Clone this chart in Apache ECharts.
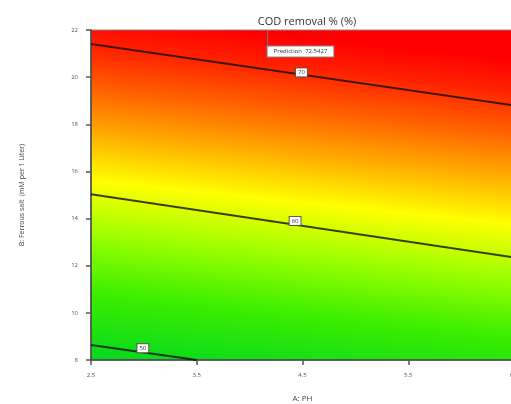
<!DOCTYPE html>
<html>
<head>
<meta charset="utf-8">
<script src="https://cdn.jsdelivr.net/npm/echarts@6/dist/echarts.min.js"></script>
<style>html,body{margin:0;padding:0;background:#fff;}#c{width:511px;height:404px;}</style>
</head>
<body>
<div id="c"></div>
<script>
// Axis ticks
const xTicks = [2.5, 3.5, 4.5, 5.5, 6.5];
const yTicks = [8, 10, 12, 14, 16, 18, 20, 22];
// Contour lines (A: pH, B: Ferrous salt)
const contour50 = [[2.5, 8.64], [3.5, 8.0]];
const contour60 = [[2.5, 15.03], [6.5, 12.35]];
const contour70 = [[2.5, 21.41], [6.5, 18.80]];
// Contour label positions and levels
const contourLabels = [[4.49, 20.2, '70'], [4.43, 13.9, '60'], [2.99, 8.5, '50']];
// Prediction flag
const flagPoint = [4.17, 22];
const flagBox = [4.17, 21.3];
const predictionValue = 72.5427;

const chart = echarts.init(document.getElementById('c'));
const font = 'Open Sans, DejaVu Sans, sans-serif';
const lineStyle = { color: 'rgba(20,15,5,0.8)', width: 2 };
function contourSeries(d) {
  return { type: 'line', data: d, symbol: 'none', lineStyle: lineStyle, z: 3, silent: true };
}
chart.setOption({
  animation: false,
  title: {
    text: 'COD removal % (%)', left: 302, top: 11, textAlign: 'center',
    textStyle: { fontSize: 11, fontWeight: 'normal', color: '#333', fontFamily: font }
  },
  grid: {
    left: 91, top: 30, width: 423, bottom: 44, show: true,
    outerBoundsMode: 'none', containLabel: false,
    borderColor: '#888', borderWidth: 1,
    backgroundColor: {
      type: 'linear', x: 0, y: 1, x2: 0.09, y2: -0.12,
      colorStops: [
        { offset: 0, color: '#05d81e' },
        { offset: 0.18, color: '#3cee00' },
        { offset: 0.33, color: '#98ff00' },
        { offset: 0.48, color: '#ffff00' },
        { offset: 0.6, color: '#ffb000' },
        { offset: 0.72, color: '#ff6400' },
        { offset: 0.84, color: '#ff2000' },
        { offset: 0.92, color: '#ff0000' },
        { offset: 1, color: '#ff0000' }
      ]
    }
  },
  xAxis: {
    type: 'value', min: xTicks[0], max: xTicks[xTicks.length - 1], interval: 1,
    name: 'A: PH', nameLocation: 'middle', nameGap: 35,
    nameTextStyle: { fontSize: 8, color: '#444', fontFamily: font },
    axisLine: { lineStyle: { color: '#444', width: 1.5 } },
    axisTick: { show: true, length: 5, lineStyle: { color: '#555', width: 1.5 } },
    axisLabel: { fontSize: 6, color: '#555', margin: 12, fontFamily: font, formatter: v => v.toFixed(1) },
    splitLine: { show: false }
  },
  yAxis: {
    type: 'value', min: yTicks[0], max: yTicks[yTicks.length - 1], interval: 2,
    name: 'B: Ferrous salt  (mM per 1 Liter)', nameLocation: 'middle', nameGap: 66,
    nameTextStyle: { fontSize: 7, color: '#444', fontFamily: font },
    axisLine: { show: true, lineStyle: { color: '#444', width: 1.5 } },
    axisTick: { show: true, length: 5, lineStyle: { color: '#555', width: 1.5 } },
    axisLabel: { fontSize: 6, color: '#555', margin: 13, fontFamily: font },
    splitLine: { show: false }
  },
  series: [
    contourSeries(contour50),
    contourSeries(contour60),
    contourSeries(contour70),
    {
      type: 'scatter', data: contourLabels, symbolSize: 0, z: 5, silent: true,
      itemStyle: { color: '#fff', opacity: 1 },
      label: {
        show: true, position: 'inside', formatter: p => p.data[2],
        fontSize: 6, color: '#333', fontFamily: font,
        backgroundColor: '#fff', borderColor: '#555', borderWidth: 1, padding: [1, 2]
      }
    },
    {
      type: 'line', data: [flagPoint, flagBox], symbol: 'none', z: 4, silent: true,
      lineStyle: { color: '#777', width: 1 }
    },
    {
      type: 'scatter', data: [flagBox], symbolSize: 0, z: 6, silent: true,
      itemStyle: { color: '#fff', opacity: 1 },
      label: {
        show: true, position: [0, 0], align: 'left', verticalAlign: 'top',
        formatter: 'Prediction  ' + predictionValue,
        fontSize: 6, color: '#333', fontFamily: font,
        backgroundColor: '#fff', borderColor: '#888', borderWidth: 1, padding: [2, 6]
      }
    }
  ]
});
</script>
</body>
</html>
